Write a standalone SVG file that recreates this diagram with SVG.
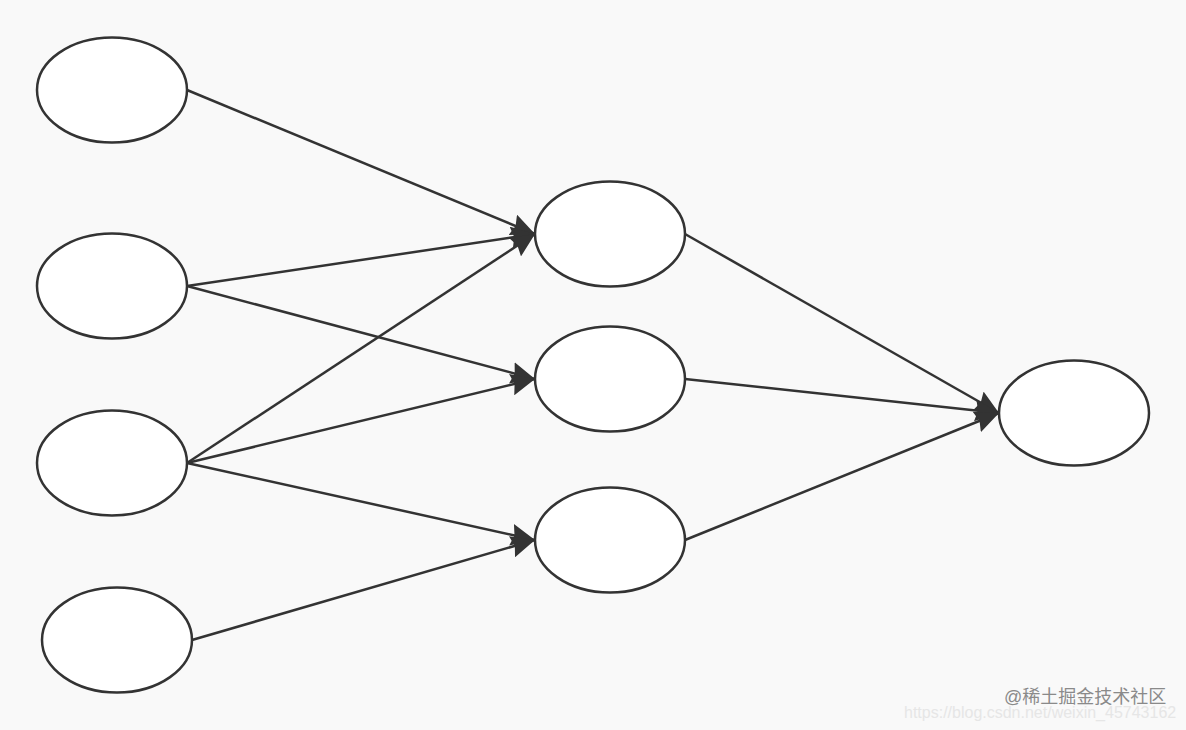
<svg xmlns="http://www.w3.org/2000/svg" width="1186" height="730" viewBox="0 0 1186 730">
<style>
.n{fill:#fff;stroke:#333;stroke-width:2.5}
.e{stroke:#333;stroke-width:2.5;fill:none;marker-end:url(#ah)}
.wm1{font-family:"Liberation Sans","Noto Sans CJK SC",sans-serif;font-size:18px;fill:#8a8a8a}
.wm2{font-family:"Liberation Sans",sans-serif;font-size:16px;fill:#e6e6e6}
</style>
<defs>
<marker id="ah" markerUnits="userSpaceOnUse" markerWidth="26" markerHeight="22" refX="24" refY="11" orient="auto">
<path d="M0,0 L24,11 L0,22 L3,11 z" fill="#333"/>
</marker>
</defs>
<rect width="1186" height="730" fill="#f9f9f9"/>
<g id="connectors">
<line class="e" x1="187" y1="90" x2="535" y2="234"/>
<line class="e" x1="187" y1="286" x2="535" y2="234"/>
<line class="e" x1="187" y1="286" x2="535" y2="379"/>
<line class="e" x1="187" y1="463" x2="535" y2="234"/>
<line class="e" x1="187" y1="463" x2="535" y2="379"/>
<line class="e" x1="187" y1="463" x2="535" y2="540"/>
<line class="e" x1="192" y1="640" x2="535" y2="540"/>
<line class="e" x1="685" y1="234" x2="999" y2="413"/>
<line class="e" x1="685" y1="379" x2="999" y2="413"/>
<line class="e" x1="685" y1="540" x2="999" y2="413"/>
</g>
<g id="in1"><ellipse class="n" cx="112" cy="90" rx="75" ry="52.5"/></g>
<g id="in2"><ellipse class="n" cx="112" cy="286" rx="75" ry="52.5"/></g>
<g id="in3"><ellipse class="n" cx="112" cy="463" rx="75" ry="52.5"/></g>
<g id="in4"><ellipse class="n" cx="117" cy="640" rx="75" ry="52.5"/></g>
<g id="h1"><ellipse class="n" cx="610" cy="234" rx="75" ry="52.5"/></g>
<g id="h2"><ellipse class="n" cx="610" cy="379" rx="75" ry="52.5"/></g>
<g id="h3"><ellipse class="n" cx="610" cy="540" rx="75" ry="52.5"/></g>
<g id="out"><ellipse class="n" cx="1074" cy="413" rx="75" ry="52.5"/></g>
<text class="wm2" x="904" y="718">https://blog.csdn.net/weixin_45743162</text>
<text class="wm1" x="1004" y="703">@稀土掘金技术社区</text>
</svg>
